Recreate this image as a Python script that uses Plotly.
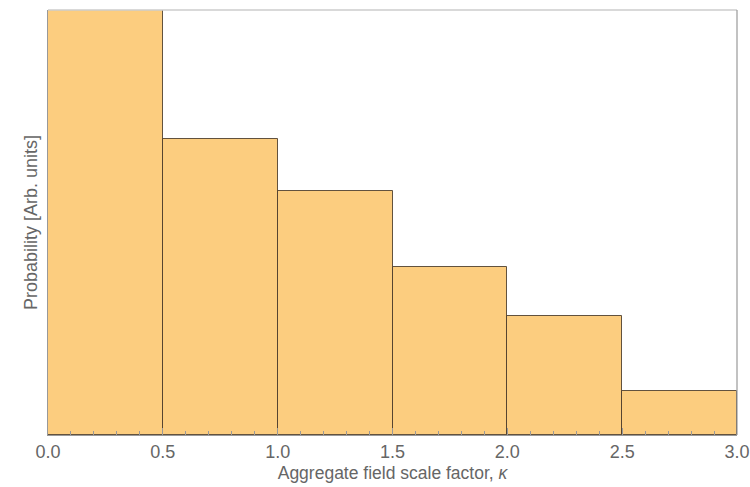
import plotly.graph_objects as go

bin_left = [0.0, 0.5, 1.0, 1.5, 2.0, 2.5]
bin_width = 0.5
probability = [1.0, 0.697, 0.575, 0.395, 0.281, 0.103]
x_ticks = [0.0, 0.5, 1.0, 1.5, 2.0, 2.5, 3.0]
x_tick_labels = ["0.0", "0.5", "1.0", "1.5", "2.0", "2.5", "3.0"]

centers = [b + bin_width / 2 for b in bin_left]

fig = go.Figure()
fig.add_trace(go.Bar(
    x=centers, y=probability, width=[bin_width] * len(centers),
    marker=dict(color="rgb(252,205,127)",
                line=dict(color="rgba(70,55,40,0.85)", width=1)),
    hoverinfo="skip",
))

fig.update_layout(
    width=750, height=487,
    margin=dict(l=48, r=13, t=10, b=52, autoexpand=False),
    plot_bgcolor="white", paper_bgcolor="white",
    showlegend=False,
    font=dict(family="Liberation Sans, Arial, sans-serif", color="#666666"),
    bargap=0,
)
fig.update_xaxes(
    range=[0, 3], tickvals=x_ticks, ticktext=x_tick_labels,
    ticks="inside", ticklen=7, tickcolor="#999999",
    showline=True, linecolor="#999999", linewidth=1.2,
    showgrid=False, zeroline=False, automargin=False,
    tickfont=dict(size=18, color="#666666"),
    minor=dict(ticks="inside", dtick=0.1, ticklen=4, tickcolor="#999999", showgrid=False),
    title=dict(text="Aggregate field scale factor, <i>κ</i>", font=dict(size=17.5, color="#666666"), standoff=6),
)
fig.update_yaxes(
    range=[0, 1.0], showticklabels=False, ticks="",
    showline=True, linecolor="#999999", linewidth=1.2,
    showgrid=False, zeroline=False, automargin=False,
    title=dict(text="Probability [Arb. units]", font=dict(size=18, color="#666666"), standoff=4),
)
fig.add_shape(type="line", xref="paper", yref="paper", x0=0, x1=1, y0=1, y1=1,
              line=dict(color="#cccccc", width=1.5), layer="above")
fig.add_shape(type="line", xref="paper", yref="paper", x0=1, x1=1, y0=0, y1=1,
              line=dict(color="#999999", width=1.2), layer="above")

fig.write_html("out.html", config={"displayModeBar": False},
               post_script="document.body.style.margin='0';document.body.style.overflow='hidden';")
